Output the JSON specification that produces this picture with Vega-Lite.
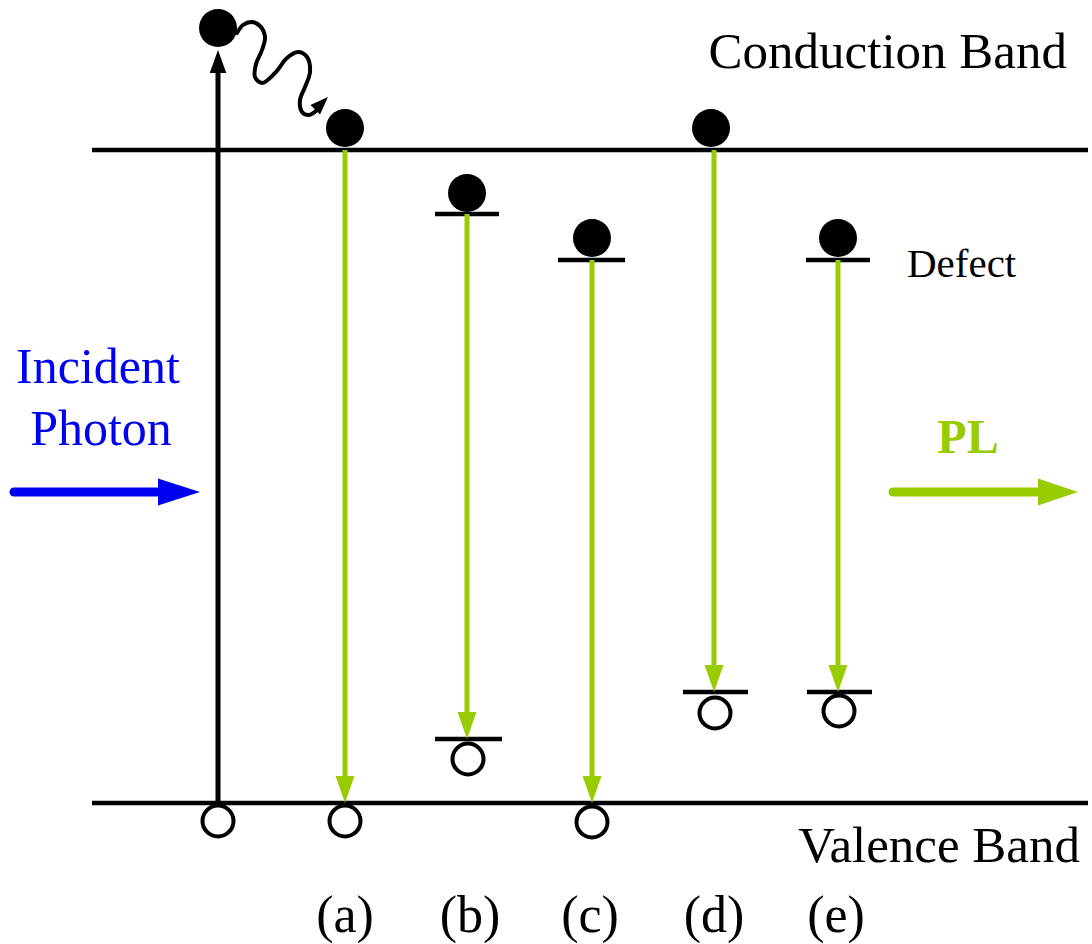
{
  "$schema": "https://vega.github.io/schema/vega-lite/v6.json",
  "width": 1092,
  "height": 944,
  "padding": 0,
  "autosize": {"type": "none"},
  "background": "white",
  "config": {"view": {"stroke": null}},
  "datasets": {
    "hlines": [
      {"level": "conduction band", "x": 92, "x2": 1088, "y": 150},
      {"level": "valence band", "x": 92, "x2": 1088, "y": 803},
      {"level": "defect b upper", "x": 435, "x2": 499, "y": 214},
      {"level": "defect c upper", "x": 558, "x2": 625, "y": 260},
      {"level": "defect e upper", "x": 806, "x2": 870, "y": 260},
      {"level": "defect b lower", "x": 435, "x2": 502, "y": 739},
      {"level": "defect d lower", "x": 683, "x2": 748, "y": 692},
      {"level": "defect e lower", "x": 807, "x2": 872, "y": 692}
    ],
    "excite": [{"x": 218, "y": 805, "y2": 70}],
    "excite_head": [{"x": 218, "y": 61.5}],
    "emit": [
      {"case": "a", "x": 345, "y": 150, "y2": 785},
      {"case": "b", "x": 467, "y": 214, "y2": 722},
      {"case": "c", "x": 592, "y": 260, "y2": 785},
      {"case": "d", "x": 714, "y": 150, "y2": 675},
      {"case": "e", "x": 838, "y": 260, "y2": 675}
    ],
    "emit_head": [
      {"case": "a", "x": 345, "y": 789.5},
      {"case": "b", "x": 467, "y": 725.5},
      {"case": "c", "x": 592, "y": 789.5},
      {"case": "d", "x": 714, "y": 678.5},
      {"case": "e", "x": 838, "y": 678.5}
    ],
    "photon_shaft": [{"x": 14, "x2": 165, "y": 492}],
    "photon_head": [{"x": 179, "y": 492}],
    "pl_shaft": [{"x": 893, "x2": 1045, "y": 492}],
    "pl_head": [{"x": 1058, "y": 492}],
    "electrons": [
      {"state": "excited", "x": 218, "y": 28},
      {"case": "a", "x": 345, "y": 128},
      {"case": "b", "x": 467, "y": 193},
      {"case": "c", "x": 592, "y": 238},
      {"case": "d", "x": 711, "y": 128},
      {"case": "e", "x": 838, "y": 238}
    ],
    "holes": [
      {"case": "excitation", "x": 218, "y": 821},
      {"case": "a", "x": 345, "y": 821},
      {"case": "b", "x": 468, "y": 759},
      {"case": "c", "x": 592, "y": 822},
      {"case": "d", "x": 715, "y": 713},
      {"case": "e", "x": 839, "y": 711}
    ],
    "wave": [
      {"i": 1, "x": 237, "y": 33},
      {"i": 2, "x": 243, "y": 25},
      {"i": 3, "x": 252, "y": 22},
      {"i": 4, "x": 260, "y": 26},
      {"i": 5, "x": 265, "y": 37},
      {"i": 6, "x": 262, "y": 50},
      {"i": 7, "x": 256, "y": 64},
      {"i": 8, "x": 255, "y": 77},
      {"i": 9, "x": 262, "y": 83},
      {"i": 10, "x": 275, "y": 73},
      {"i": 11, "x": 287, "y": 58},
      {"i": 12, "x": 298, "y": 52},
      {"i": 13, "x": 307, "y": 57},
      {"i": 14, "x": 310, "y": 72},
      {"i": 15, "x": 305, "y": 87},
      {"i": 16, "x": 300, "y": 100},
      {"i": 17, "x": 302, "y": 112},
      {"i": 18, "x": 309, "y": 115},
      {"i": 19, "x": 317, "y": 110}
    ],
    "wave_head": [{"x": 321.6, "y": 103.4}],
    "band_labels_right": [
      {"label": "Conduction Band", "x": 1067, "y": 68},
      {"label": "Valence Band", "x": 1080, "y": 862}
    ],
    "defect_label": [{"label": "Defect", "x": 907, "y": 277}],
    "photon_label": [
      {"label": "Incident", "x": 98, "y": 383},
      {"label": "Photon", "x": 101, "y": 445}
    ],
    "pl_label": [{"label": "PL", "x": 968, "y": 453}],
    "case_labels": [
      {"label": "(a)", "x": 345, "y": 932},
      {"label": "(b)", "x": 470, "y": 932},
      {"label": "(c)", "x": 590, "y": 932},
      {"label": "(d)", "x": 714, "y": 932},
      {"label": "(e)", "x": 836, "y": 932}
    ]
  },
  "encoding": {
    "x": {"field": "x", "type": "quantitative", "scale": {"domain": [0, 1092], "nice": false, "zero": false}, "axis": null},
    "y": {"field": "y", "type": "quantitative", "scale": {"domain": [0, 944], "nice": false, "zero": false, "reverse": true}, "axis": null}
  },
  "layer": [
    {
      "data": {"name": "hlines"},
      "mark": {"type": "rule", "strokeWidth": 4.5, "color": "black"},
      "encoding": {"x2": {"field": "x2"}}
    },
    {
      "data": {"name": "excite"},
      "mark": {"type": "rule", "strokeWidth": 5, "color": "black"},
      "encoding": {"y2": {"field": "y2"}}
    },
    {
      "data": {"name": "excite_head"},
      "mark": {"type": "point", "shape": "M0,-1L0.72,1L-0.72,1Z", "size": 529, "filled": true, "color": "black", "opacity": 1, "strokeWidth": 0}
    },
    {
      "data": {"name": "emit"},
      "mark": {"type": "rule", "strokeWidth": 5, "color": "#99cc00"},
      "encoding": {"y2": {"field": "y2"}}
    },
    {
      "data": {"name": "emit_head"},
      "mark": {"type": "point", "shape": "M-0.7,-1L0.7,-1L0,1Z", "size": 729, "filled": true, "color": "#99cc00", "opacity": 1, "strokeWidth": 0}
    },
    {
      "data": {"name": "photon_shaft"},
      "mark": {"type": "rule", "strokeWidth": 9, "strokeCap": "round", "color": "#0000f0"},
      "encoding": {"x2": {"field": "x2"}}
    },
    {
      "data": {"name": "photon_head"},
      "mark": {"type": "point", "shape": "M-1,-0.64L1,0L-1,0.64Z", "size": 1764, "filled": true, "color": "#0000f0", "opacity": 1, "strokeWidth": 0}
    },
    {
      "data": {"name": "pl_shaft"},
      "mark": {"type": "rule", "strokeWidth": 9, "strokeCap": "round", "color": "#99cc00"},
      "encoding": {"x2": {"field": "x2"}}
    },
    {
      "data": {"name": "pl_head"},
      "mark": {"type": "point", "shape": "M-1,-0.675L1,0L-1,0.675Z", "size": 1600, "filled": true, "color": "#99cc00", "opacity": 1, "strokeWidth": 0}
    },
    {
      "data": {"name": "wave"},
      "mark": {"type": "line", "interpolate": "catmull-rom", "strokeWidth": 4, "color": "black", "strokeCap": "round"},
      "encoding": {"order": {"field": "i", "type": "quantitative"}}
    },
    {
      "data": {"name": "wave_head"},
      "mark": {"type": "point", "shape": "M0,-1L0.75,1L-0.75,1Z", "size": 324, "angle": 45, "filled": true, "color": "black", "opacity": 1, "strokeWidth": 0}
    },
    {
      "data": {"name": "electrons"},
      "mark": {"type": "point", "shape": "circle", "size": 1444, "filled": true, "color": "black", "opacity": 1, "strokeWidth": 0}
    },
    {
      "data": {"name": "holes"},
      "mark": {"type": "point", "shape": "circle", "size": 961, "filled": true, "fill": "white", "stroke": "black", "strokeWidth": 4, "opacity": 1, "fillOpacity": 1}
    },
    {
      "data": {"name": "band_labels_right"},
      "mark": {"type": "text", "font": "Liberation Serif", "fontSize": 51, "align": "right", "baseline": "alphabetic", "color": "black"},
      "encoding": {"text": {"field": "label"}}
    },
    {
      "data": {"name": "defect_label"},
      "mark": {"type": "text", "font": "Liberation Serif", "fontSize": 41, "align": "left", "baseline": "alphabetic", "color": "black"},
      "encoding": {"text": {"field": "label"}}
    },
    {
      "data": {"name": "photon_label"},
      "mark": {"type": "text", "font": "Liberation Serif", "fontSize": 50, "align": "center", "baseline": "alphabetic", "color": "#0000f0"},
      "encoding": {"text": {"field": "label"}}
    },
    {
      "data": {"name": "pl_label"},
      "mark": {"type": "text", "font": "Liberation Serif", "fontSize": 48, "fontWeight": "bold", "align": "center", "baseline": "alphabetic", "color": "#99cc00"},
      "encoding": {"text": {"field": "label"}}
    },
    {
      "data": {"name": "case_labels"},
      "mark": {"type": "text", "font": "Liberation Serif", "fontSize": 52, "align": "center", "baseline": "alphabetic", "color": "black"},
      "encoding": {"text": {"field": "label"}}
    }
  ]
}
